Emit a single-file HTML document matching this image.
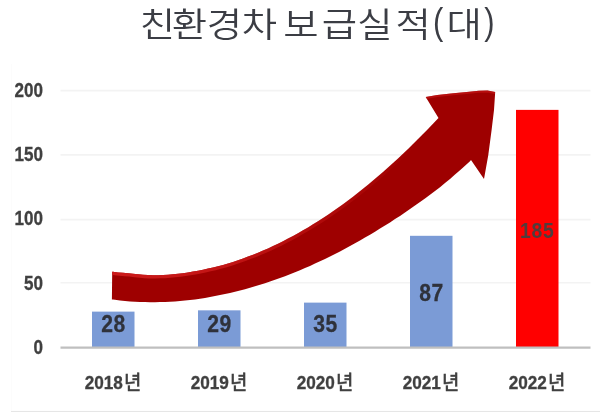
<!DOCTYPE html>
<html lang="ko">
<head>
<meta charset="utf-8">
<title>친환경차 보급실적(대)</title>
<style>
html,body{margin:0;padding:0;background:#fff;}
body{width:600px;height:412px;overflow:hidden;position:relative;}
svg{display:block;position:absolute;left:0;top:0;filter:blur(0.45px);}
text{font-family:"Liberation Sans","Noto Sans CJK KR",sans-serif;}
.title{font-weight:350;fill:#3b3d44;}
.num{font-weight:700;fill:#404040;stroke:#404040;stroke-width:0.3px;}
.ko{font-weight:500;stroke-width:0.25px;}
</style>
</head>
<body>
<svg width="600" height="412" viewBox="0 0 600 412" role="img" aria-label="친환경차 보급실적(대)">
  <rect x="0" y="0" width="600" height="412" fill="#ffffff"/>
  <!-- chart frame (very faint) -->
  <path d="M11.5,64 V411 H600" fill="none" stroke="#fcfcfc" stroke-width="1"/>
  <line x1="11" y1="411.5" x2="600" y2="411.5" stroke="#e6e6e6" stroke-width="1"/>
  <!-- gridlines -->
  <g stroke="#f3f3f3" stroke-width="1.6">
    <line x1="60.5" y1="282.70" x2="590.5" y2="282.70"/>
    <line x1="60.5" y1="219.60" x2="590.5" y2="219.60"/>
    <line x1="60.5" y1="154.85" x2="590.5" y2="154.85"/>
    <line x1="60.5" y1="90.60" x2="590.5" y2="90.60"/>
  </g>
  <!-- bars -->
  <rect x="92" y="311.62" width="42.5" height="35.98" fill="#7b9bd6"/>
  <rect x="198" y="310.34" width="42.5" height="37.26" fill="#7b9bd6"/>
  <rect x="304" y="302.62" width="42.5" height="44.98" fill="#7b9bd6"/>
  <rect x="410" y="235.81" width="42.5" height="111.79" fill="#7b9bd6"/>
  <rect x="516" y="109.88" width="42.5" height="237.72" fill="#ff0000"/>
  <!-- axis -->
  <line x1="60.5" y1="347.6" x2="590.5" y2="347.6" stroke="#bfbfbf" stroke-width="2.2"/>
  <!-- arrow -->
  <defs>
    <clipPath id="ac"><path d="M112.2,271.7 L113.0,271.8 L118.0,272.4 L123.0,272.8 L128.0,273.2 L133.0,273.7 L138.0,274.3 L143.0,274.7 L148.0,275.1 L153.0,275.2 L158.0,275.2 L163.0,275.0 L168.0,274.7 L173.0,274.3 L178.0,273.8 L183.0,273.2 L188.0,272.4 L193.0,271.6 L198.0,270.7 L203.0,269.7 L208.0,268.6 L213.0,267.5 L218.0,266.2 L223.0,264.9 L228.0,263.4 L233.0,261.9 L238.0,260.2 L243.0,258.5 L248.0,256.6 L253.0,254.7 L258.0,252.7 L263.0,250.6 L268.0,248.4 L273.0,246.1 L278.0,243.7 L283.0,241.2 L288.0,238.6 L293.0,235.9 L298.0,233.2 L303.0,230.3 L308.0,227.4 L313.0,224.3 L318.0,221.2 L323.0,218.0 L328.0,214.7 L333.0,211.3 L338.0,207.8 L343.0,204.2 L348.0,200.5 L353.0,196.7 L358.0,192.8 L363.0,188.8 L368.0,184.7 L373.0,180.6 L378.0,176.3 L383.0,172.0 L388.0,167.5 L393.0,163.0 L398.0,158.4 L403.0,153.7 L408.0,148.9 L413.0,144.0 L418.0,139.1 L423.0,134.1 L428.0,128.9 L433.0,123.7 L438.0,118.4 L438.5,117.9 L425.7,97.0 L437.3,95.0 L453.3,93.2 L466.7,91.9 L478.7,90.8 L487.5,90.6 L495.2,92.0 L494.0,110.0 L491.6,130.0 L488.3,155.0 L484.0,179.0 L471.0,160.0 L470.0,161.2 L465.0,165.7 L460.0,170.2 L455.0,174.6 L450.0,178.9 L445.0,183.1 L440.0,187.3 L435.0,191.1 L430.0,194.8 L425.0,198.5 L420.0,202.1 L415.0,205.6 L410.0,209.1 L405.0,212.5 L400.0,215.9 L395.0,219.1 L390.0,222.4 L385.0,225.5 L380.0,228.6 L375.0,231.7 L370.0,234.7 L365.0,237.6 L360.0,240.5 L355.0,243.3 L350.0,246.0 L345.0,248.7 L340.0,251.4 L335.0,253.9 L330.0,256.4 L325.0,258.9 L320.0,261.3 L315.0,263.6 L310.0,265.9 L305.0,268.1 L300.0,270.2 L295.0,272.3 L290.0,274.3 L285.0,276.2 L280.0,278.0 L275.0,279.8 L270.0,281.5 L265.0,283.2 L260.0,284.8 L255.0,286.3 L250.0,287.8 L245.0,289.2 L240.0,290.5 L235.0,291.8 L230.0,293.0 L225.0,294.1 L220.0,295.1 L215.0,296.1 L210.0,297.0 L205.0,297.9 L200.0,298.7 L195.0,299.4 L190.0,300.0 L185.0,300.5 L180.0,301.0 L175.0,301.4 L170.0,301.7 L165.0,302.0 L160.0,302.1 L155.0,302.2 L150.0,302.2 L145.0,302.1 L140.0,302.0 L135.0,301.7 L130.0,301.4 L125.0,300.9 L120.0,300.4 L115.0,299.8 L113.0,299.5 L111.9,299.6 Z"/></clipPath>
    <linearGradient id="hl" gradientUnits="userSpaceOnUse" x1="113" y1="0" x2="420" y2="0">
      <stop offset="0" stop-color="#cc1a1a" stop-opacity="1"/>
      <stop offset="0.35" stop-color="#cc1a1a" stop-opacity="0.8"/>
      <stop offset="1" stop-color="#cc1a1a" stop-opacity="0"/>
    </linearGradient>
  </defs>
  <path d="M112.2,271.7 L113.0,271.8 L118.0,272.4 L123.0,272.8 L128.0,273.2 L133.0,273.7 L138.0,274.3 L143.0,274.7 L148.0,275.1 L153.0,275.2 L158.0,275.2 L163.0,275.0 L168.0,274.7 L173.0,274.3 L178.0,273.8 L183.0,273.2 L188.0,272.4 L193.0,271.6 L198.0,270.7 L203.0,269.7 L208.0,268.6 L213.0,267.5 L218.0,266.2 L223.0,264.9 L228.0,263.4 L233.0,261.9 L238.0,260.2 L243.0,258.5 L248.0,256.6 L253.0,254.7 L258.0,252.7 L263.0,250.6 L268.0,248.4 L273.0,246.1 L278.0,243.7 L283.0,241.2 L288.0,238.6 L293.0,235.9 L298.0,233.2 L303.0,230.3 L308.0,227.4 L313.0,224.3 L318.0,221.2 L323.0,218.0 L328.0,214.7 L333.0,211.3 L338.0,207.8 L343.0,204.2 L348.0,200.5 L353.0,196.7 L358.0,192.8 L363.0,188.8 L368.0,184.7 L373.0,180.6 L378.0,176.3 L383.0,172.0 L388.0,167.5 L393.0,163.0 L398.0,158.4 L403.0,153.7 L408.0,148.9 L413.0,144.0 L418.0,139.1 L423.0,134.1 L428.0,128.9 L433.0,123.7 L438.0,118.4 L438.5,117.9 L425.7,97.0 L437.3,95.0 L453.3,93.2 L466.7,91.9 L478.7,90.8 L487.5,90.6 L495.2,92.0 L494.0,110.0 L491.6,130.0 L488.3,155.0 L484.0,179.0 L471.0,160.0 L470.0,161.2 L465.0,165.7 L460.0,170.2 L455.0,174.6 L450.0,178.9 L445.0,183.1 L440.0,187.3 L435.0,191.1 L430.0,194.8 L425.0,198.5 L420.0,202.1 L415.0,205.6 L410.0,209.1 L405.0,212.5 L400.0,215.9 L395.0,219.1 L390.0,222.4 L385.0,225.5 L380.0,228.6 L375.0,231.7 L370.0,234.7 L365.0,237.6 L360.0,240.5 L355.0,243.3 L350.0,246.0 L345.0,248.7 L340.0,251.4 L335.0,253.9 L330.0,256.4 L325.0,258.9 L320.0,261.3 L315.0,263.6 L310.0,265.9 L305.0,268.1 L300.0,270.2 L295.0,272.3 L290.0,274.3 L285.0,276.2 L280.0,278.0 L275.0,279.8 L270.0,281.5 L265.0,283.2 L260.0,284.8 L255.0,286.3 L250.0,287.8 L245.0,289.2 L240.0,290.5 L235.0,291.8 L230.0,293.0 L225.0,294.1 L220.0,295.1 L215.0,296.1 L210.0,297.0 L205.0,297.9 L200.0,298.7 L195.0,299.4 L190.0,300.0 L185.0,300.5 L180.0,301.0 L175.0,301.4 L170.0,301.7 L165.0,302.0 L160.0,302.1 L155.0,302.2 L150.0,302.2 L145.0,302.1 L140.0,302.0 L135.0,301.7 L130.0,301.4 L125.0,300.9 L120.0,300.4 L115.0,299.8 L113.0,299.5 L111.9,299.6 Z" fill="#9e0000"/>
  <path d="M110.0,271.3 L115.0,272.0 L120.0,272.6 L125.0,273.0 L130.0,273.3 L135.0,274.0 L140.0,274.5 L145.0,274.9 L150.0,275.2 L155.0,275.2 L160.0,275.1 L165.0,274.9 L170.0,274.6 L175.0,274.1 L180.0,273.5 L185.0,272.9 L190.0,272.1 L195.0,271.3 L200.0,270.3 L205.0,269.3 L210.0,268.2 L215.0,267.0 L220.0,265.7 L225.0,264.3 L230.0,262.8 L235.0,261.2 L240.0,259.5 L245.0,257.7 L250.0,255.8 L255.0,253.9 L260.0,251.8 L265.0,249.7 L270.0,247.5 L275.0,245.1 L280.0,242.7 L285.0,240.2 L290.0,237.6 L295.0,234.8 L300.0,232.0 L305.0,229.1 L310.0,226.2 L315.0,223.1 L320.0,219.9 L325.0,216.7 L330.0,213.3 L335.0,209.9 L340.0,206.3 L345.0,202.7 L350.0,199.0 L355.0,195.1 L360.0,191.2 L365.0,187.2 L370.0,183.1 L375.0,178.9 L380.0,174.6 L385.0,170.2 L390.0,165.7 L395.0,161.2 L400.0,156.5 L405.0,151.8 L410.0,147.0 L415.0,142.1 L420.0,137.1 L425.0,132.0 L430.0,126.9 L435.0,121.6 L438.5,117.9" fill="none" stroke="url(#hl)" stroke-width="6.5" clip-path="url(#ac)"/>
  <path d="M425.7,97.0 L437.3,95.0 L453.3,93.2 L466.7,91.9 L478.7,90.8 L487.5,90.6 L495.2,92.0" fill="none" stroke="#cc1a1a" stroke-opacity="0.55" stroke-width="4" clip-path="url(#ac)"/>
  <!-- title -->
  <text class="title" transform="scale(1.12,1)" x="124.73 153.30 184.55 215.80 250.10 252.86 287.23 318.93 353.04 386.61 398.57 432.41" y="37.5 37.5 37.5 37.5 37.5 37.5 37.5 37.5 37.5 34.2 37.5 34.2" font-size="34.3">친환경차 보급실적<tspan font-size="37" textLength="9.2" lengthAdjust="spacingAndGlyphs">(</tspan>대<tspan font-size="37" textLength="9.2" lengthAdjust="spacingAndGlyphs">)</tspan></text>
  <!-- y axis labels -->
  <text class="num" transform="translate(43.1,353.9) scale(0.885,1)" text-anchor="end" font-size="19.3" letter-spacing="0" >0</text>
  <text class="num" transform="translate(43.1,289.65) scale(0.885,1)" text-anchor="end" font-size="19.3" letter-spacing="0" >50</text>
  <text class="num" transform="translate(43.1,225.4) scale(0.885,1)" text-anchor="end" font-size="19.3" letter-spacing="0" >100</text>
  <text class="num" transform="translate(43.1,161.15) scale(0.885,1)" text-anchor="end" font-size="19.3" letter-spacing="0" >150</text>
  <text class="num" transform="translate(43.1,97.3) scale(0.885,1)" text-anchor="end" font-size="19.3" letter-spacing="0" >200</text>
  <!-- x axis labels -->
  <text class="num" transform="translate(113.0,389.2) scale(0.92,1)" text-anchor="middle" font-size="18.7">2018<tspan class="ko" font-size="20.5" dx="1.2" dy="0.6">년</tspan></text>
  <text class="num" transform="translate(219.0,389.2) scale(0.92,1)" text-anchor="middle" font-size="18.7">2019<tspan class="ko" font-size="20.5" dx="1.2" dy="0.6">년</tspan></text>
  <text class="num" transform="translate(325.0,389.2) scale(0.92,1)" text-anchor="middle" font-size="18.7">2020<tspan class="ko" font-size="20.5" dx="1.2" dy="0.6">년</tspan></text>
  <text class="num" transform="translate(431.0,389.2) scale(0.92,1)" text-anchor="middle" font-size="18.7">2021<tspan class="ko" font-size="20.5" dx="1.2" dy="0.6">년</tspan></text>
  <text class="num" transform="translate(537.0,389.2) scale(0.92,1)" text-anchor="middle" font-size="18.7">2022<tspan class="ko" font-size="20.5" dx="1.2" dy="0.6">년</tspan></text>
  <!-- value labels -->
  <text class="num" transform="translate(113.4,331.9) scale(0.88,1)" text-anchor="middle" font-size="24" letter-spacing="0.4" style="fill:#2f323b;stroke:#2f323b">28</text>
  <text class="num" transform="translate(219.4,331.9) scale(0.88,1)" text-anchor="middle" font-size="24" letter-spacing="0.4" style="fill:#2f323b;stroke:#2f323b">29</text>
  <text class="num" transform="translate(325.4,331.9) scale(0.88,1)" text-anchor="middle" font-size="24" letter-spacing="0.4" style="fill:#2f323b;stroke:#2f323b">35</text>
  <text class="num" transform="translate(431.4,301.2) scale(0.88,1)" text-anchor="middle" font-size="24" letter-spacing="0.4" style="fill:#2f323b;stroke:#2f323b">87</text>
  <text class="num" transform="translate(537.2,237.7) scale(0.86,1)" text-anchor="middle" font-size="22.6" letter-spacing="0.7" style="fill:#4f3d3d;stroke:none">185</text>
</svg>
</body>
</html>
